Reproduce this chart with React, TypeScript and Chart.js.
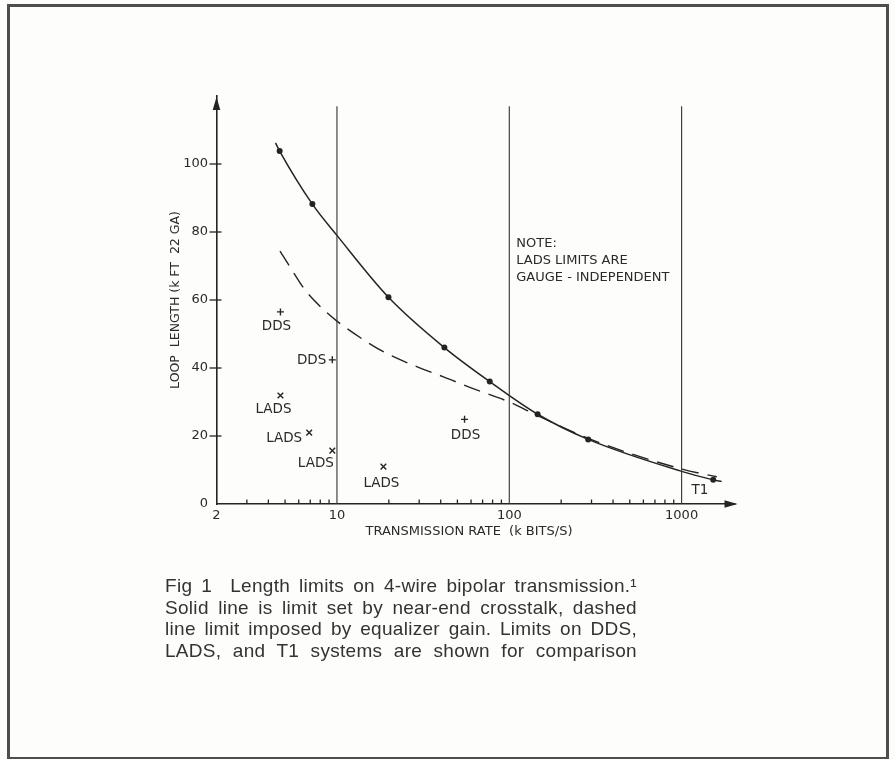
import React, { useEffect, useRef } from 'react';
import { Chart, registerables } from 'chart.js';

Chart.register(...registerables);

// ---- data ----
const xTicks = [2, 10, 100, 1000];
const yTicks = [0, 20, 40, 60, 80, 100];
const xMinorTicks = [3, 4, 5, 6, 7, 8, 9, 20, 30, 40, 50, 60, 70, 80, 90, 200, 300, 400, 500, 600, 700, 800, 900];
const referenceRates = [10, 100, 1000];
const referenceLineSpan = [0, 117];

// solid line: limit set by near-end crosstalk
const crosstalkX = [4.4, 4.65, 7.2, 10, 19.9, 42, 77, 146, 287, 1000, 1525, 1706];
const crosstalkY = [106.2, 103.8, 88.2, 79, 60.8, 46, 36, 26.4, 19, 9.6, 7.1, 6.6];
const crosstalkDotX = [4.65, 7.2, 19.9, 42, 77, 146, 287, 1525];
const crosstalkDotY = [103.8, 88.2, 60.8, 46, 36, 26.4, 19, 7.1];

// dashed line: limit imposed by equalizer gain
const equalizerX = [4.67, 5.45, 6.5, 8.15, 10, 15.2, 19.4, 29.7, 41.5, 59, 100, 146, 287, 1000, 1600];
const equalizerY = [74.4, 69, 63.1, 57.7, 53.8, 47.4, 44.3, 40.2, 37.4, 34.3, 30, 26, 19.3, 10.3, 8];

// system limits
const ddsX = [4.7, 9.4, 55];
const ddsY = [56.5, 42.4, 24.9];
const ddsLabels = ['DDS', 'DDS', 'DDS'];
const ladsX = [4.7, 6.9, 9.4, 18.6];
const ladsY = [31.9, 21, 15.7, 11];
const ladsLabels = ['LADS', 'LADS', 'LADS', 'LADS'];
const t1Label = 'T1';

const noteLines = ['NOTE:', 'LADS LIMITS ARE', 'GAUGE - INDEPENDENT'];
const yTitle = 'LOOP  LENGTH (k FT  22 GA)';
const xTitle = 'TRANSMISSION RATE  (k BITS/S)';

const captionLines = [
  'Fig 1\u00a0 Length limits on 4-wire bipolar transmission.\u00b9',
  'Solid line is limit set by near-end crosstalk, dashed',
  'line limit imposed by equalizer gain. Limits on DDS,',
  'LADS, and T1 systems are shown for comparison',
];

// ---- styling / placement (kept apart from the data) ----
const INK = '#242424';
const TEXT = '#2a2a2a';
const FONT = '"DejaVu Sans", "Noto Sans", sans-serif';
// label offsets relative to each marker: [dx, dy, align]
const ddsLabelPlacement: [number, number, CanvasTextAlign][] = [
  [-4, 14.5, 'center'],
  [-6, 0.5, 'right'],
  [1, 16, 'center'],
];
const ladsLabelPlacement: [number, number, CanvasTextAlign][] = [
  [-7, 14, 'center'],
  [-7, 5.5, 'right'],
  [-16.5, 12.5, 'center'],
  [-2, 16.5, 'center'],
];

const zip = (xs: number[], ys: number[]) => xs.map((x, i) => ({ x, y: ys[i] }));

const decorPlugin = {
  id: 'decor',
  afterDraw(chart: any) {
    const { ctx, chartArea: a } = chart;
    const xs = chart.scales.x;
    const ys = chart.scales.y;
    const ax = a.left;
    const ay = a.bottom;
    ctx.save();
    ctx.strokeStyle = INK;
    ctx.fillStyle = INK;
    const seg = (x1: number, y1: number, x2: number, y2: number) => {
      ctx.beginPath();
      ctx.moveTo(x1, y1);
      ctx.lineTo(x2, y2);
      ctx.stroke();
    };
    // x axis arrow
    ctx.lineWidth = 1.6;
    seg(a.right - 2, ay, a.right + 2, ay);
    ctx.beginPath();
    ctx.moveTo(a.right + 4, ay);
    ctx.lineTo(a.right - 9, ay - 3.8);
    ctx.lineTo(a.right - 9, ay + 3.8);
    ctx.closePath();
    ctx.fill();
    // y axis arrow
    ctx.beginPath();
    ctx.moveTo(ax, a.top + 1);
    ctx.lineTo(ax - 3.8, a.top + 14);
    ctx.lineTo(ax + 3.8, a.top + 14);
    ctx.closePath();
    ctx.fill();
    // y ticks crossing the axis
    ctx.lineWidth = 1.3;
    yTicks.forEach((v) => {
      if (v === 0) return;
      const py = ys.getPixelForValue(v);
      seg(ax - 7, py, ax + 5, py);
    });
    // x minor ticks (inward)
    xMinorTicks.forEach((v) => {
      const px = xs.getPixelForValue(v);
      seg(px, ay, px, ay - 4.5);
    });
    // axis titles
    ctx.fillStyle = TEXT;
    ctx.font = `12.5px ${FONT}`;
    ctx.textBaseline = 'middle';
    ctx.textAlign = 'center';
    ctx.save();
    ctx.translate(ax - 40.5, (a.top + a.bottom) / 2);
    ctx.rotate(-Math.PI / 2);
    ctx.fillText(yTitle, 0, 0);
    ctx.restore();
    ctx.font = `13px ${FONT}`;
    ctx.fillText(xTitle, ax + 252.5, ay + 28);
    // marker labels
    ctx.font = `13.5px ${FONT}`;
    ddsX.forEach((v, i) => {
      const [dx, dy, al] = ddsLabelPlacement[i];
      ctx.textAlign = al;
      ctx.fillText(ddsLabels[i], xs.getPixelForValue(v) + dx, ys.getPixelForValue(ddsY[i]) + dy);
    });
    ladsX.forEach((v, i) => {
      const [dx, dy, al] = ladsLabelPlacement[i];
      ctx.textAlign = al;
      ctx.fillText(ladsLabels[i], xs.getPixelForValue(v) + dx, ys.getPixelForValue(ladsY[i]) + dy);
    });
    // T1 label
    ctx.textAlign = 'left';
    ctx.fillText(t1Label, xs.getPixelForValue(1000) + 10, ys.getPixelForValue(4.1));
    // note
    ctx.font = `13px ${FONT}`;
    const nx = xs.getPixelForValue(100) + 7;
    const ny = ys.getPixelForValue(76.5);
    noteLines.forEach((t, i) => ctx.fillText(t, nx, ny + i * 17));
    ctx.restore();
  },
};

export default function App() {
  const canvasRef = useRef<HTMLCanvasElement | null>(null);

  useEffect(() => {
    if (!canvasRef.current) return;
    Chart.defaults.font.family = FONT;
    const refDatasets = referenceRates.map((r) => ({
      data: referenceLineSpan.map((y) => ({ x: r, y })),
      borderColor: '#333333',
      borderWidth: 1.1,
      pointRadius: 0,
      showLine: true,
      tension: 0,
    }));
    const chart = new Chart(canvasRef.current, {
      type: 'line',
      data: {
        datasets: [
          ...refDatasets,
          {
            data: zip(crosstalkX, crosstalkY),
            borderColor: INK,
            borderWidth: 1.5,
            pointRadius: 0,
            tension: 0.4,
            cubicInterpolationMode: 'monotone',
          },
          {
            data: zip(crosstalkDotX, crosstalkDotY),
            showLine: false,
            pointRadius: 3,
            pointBackgroundColor: INK,
            pointBorderWidth: 0,
          },
          {
            data: zip(equalizerX, equalizerY),
            borderColor: INK,
            borderWidth: 1.4,
            borderDash: [17, 9],
            pointRadius: 0,
            tension: 0.4,
            cubicInterpolationMode: 'monotone',
          },
          {
            data: zip(ddsX, ddsY),
            showLine: false,
            pointStyle: 'cross',
            pointRadius: 3.5,
            pointBorderColor: INK,
            pointBorderWidth: 1.4,
          },
          {
            data: zip(ladsX, ladsY),
            showLine: false,
            pointStyle: 'crossRot',
            pointRadius: 4,
            pointBorderColor: INK,
            pointBorderWidth: 1.4,
          },
        ] as any,
      },
      options: {
        responsive: false,
        animation: false,
        events: [],
        layout: { padding: { left: 166.5, right: 161.5, top: 96, bottom: 215 } },
        plugins: {
          legend: { display: false },
          tooltip: { enabled: false },
          title: { display: false },
        },
        scales: {
          x: {
            type: 'logarithmic',
            min: 2,
            max: 2000,
            afterFit: (s: any) => {
              s.height = 40;
            },
            afterBuildTicks: (s: any) => {
              s.ticks = xTicks.map((v) => ({ value: v }));
            },
            grid: { display: false, drawTicks: false },
            border: { display: true, color: INK, width: 1.6 },
            ticks: {
              padding: 4,
              color: TEXT,
              font: { size: 13, family: FONT },
              maxRotation: 0,
              autoSkip: false,
              callback: (v: any) => String(v),
            },
          },
          y: {
            type: 'linear',
            min: 0,
            max: 120,
            afterFit: (s: any) => {
              s.width = 50;
            },
            afterBuildTicks: (s: any) => {
              s.ticks = yTicks.map((v) => ({ value: v }));
            },
            grid: { display: false, drawTicks: false },
            border: { display: true, color: INK, width: 1.6 },
            ticks: {
              padding: 8.5,
              color: TEXT,
              font: { size: 13, family: FONT },
              callback: (v: any) => String(v),
            },
          },
        } as any,
      },
      plugins: [decorPlugin],
    });
    return () => chart.destroy();
  }, []);

  return (
    <div
      style={{
        position: 'absolute',
        left: 0,
        top: 0,
        width: 895,
        height: 759,
        background: '#fdfdfb',
        overflow: 'hidden',
      }}
    >
      <canvas
        ref={canvasRef}
        width={895}
        height={759}
        style={{ position: 'absolute', left: 0, top: 0, width: 895, height: 759 }}
      />
      <div
        style={{
          position: 'absolute',
          left: 7,
          top: 4,
          width: 882,
          height: 756,
          boxSizing: 'border-box',
          border: '3px solid #4e4e4e',
          pointerEvents: 'none',
        }}
      />
      <div
        style={{
          position: 'absolute',
          left: 165,
          top: 575,
          width: 472,
          fontFamily: '"Liberation Sans", Arial, sans-serif',
          fontSize: 19,
          letterSpacing: 0.3,
          color: '#333333',
        }}
      >
        {captionLines.map((l, i) => (
          <div
            key={i}
            style={{
              height: 21.7,
              lineHeight: '21.7px',
              whiteSpace: 'nowrap',
              textAlign: 'justify',
              textAlignLast: 'justify',
            }}
          >
            {l}
          </div>
        ))}
      </div>
    </div>
  );
}
